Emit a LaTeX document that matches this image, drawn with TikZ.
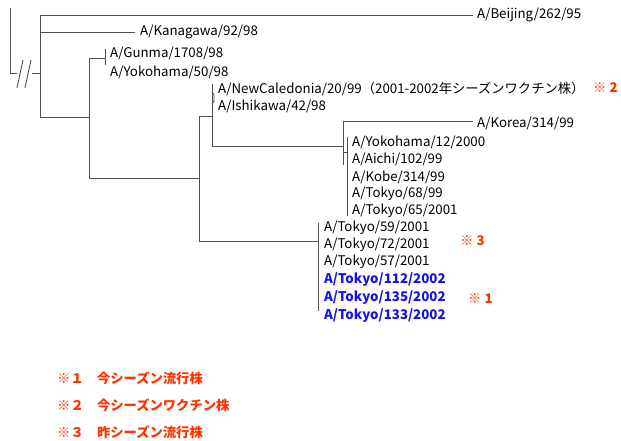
\documentclass[tikz,border=0pt]{standalone}
\usepackage{fontspec}
\setmainfont{Noto Sans CJK JP}
\usetikzlibrary{positioning}

\definecolor{notecol}{RGB}{255,51,0}
\definecolor{newcol}{RGB}{20,20,230}
\definecolor{linecol}{RGB}{80,80,80}

\tikzset{
	branch/.style={draw=linecol, line width=0.9pt},
	strain/.style={anchor=west, inner sep=0pt, font=\fontsize{13.3}{14}\selectfont},
	newstrain/.style={strain, text=newcol, font=\fontsize{13.3}{14}\selectfont\bfseries},
	note/.style={anchor=west, inner sep=0pt, text=notecol, font=\fontsize{13.3}{14}\selectfont\bfseries}
}

\begin{document}
\begin{tikzpicture}[x=1pt, y=-1pt]

		\useasboundingbox (0,0) rectangle (621,441);

		% internal nodes of the tree
		\coordinate (root) at (40,73);
		\coordinate (n1) at (89,117);
		\coordinate (n2) at (105,58);
		\coordinate (n3) at (199,178);
		\coordinate (n4) at (212,116);
		\coordinate (n5) at (213,97);
		\coordinate (n6) at (343,141);
		\coordinate (n7) at (347,152);
		\coordinate (n8) at (318,241);

		% stub with the break
		\draw[branch] (10,8) -- (10,73) -- (17,73);
		\draw[branch] (17,88) -- (23,60); %Corte
		\draw[branch] (25,88) -- (31,60); %Corte
		\draw[branch] (32,73) -- (root);

		% strains
		\node[strain] (beijing) at (477,15) {A/Beijing/262/95};
		\node[strain] (kanagawa) at (140,32) {A/Kanagawa/92/98};
		\node[strain] (gunma) at (110,53) {A/Gunma/1708/98};
		\node[strain] (yokohama50) at (110,72) {A/Yokohama/50/98};
		\node[strain] (newcal) at (218,89) {A/NewCaledonia/20/99（2001-2002年シーズンワクチン株）};
		\node[strain] (ishikawa) at (218,106) {A/Ishikawa/42/98};
		\node[strain] (korea) at (477,123) {A/Korea/314/99};
		\node[strain] (yokohama12) at (352,142) {A/Yokohama/12/2000};
		\node[strain] (aichi) at (352,159) {A/Aichi/102/99};
		\node[strain] (kobe) at (352,177) {A/Kobe/314/99};
		\node[strain] (tokyo68) at (352,194) {A/Tokyo/68/99};
		\node[strain] (tokyo65) at (352,211) {A/Tokyo/65/2001};
		\node[strain] (tokyo59) at (324,228) {A/Tokyo/59/2001};
		\node[strain] (tokyo72) at (324,245) {A/Tokyo/72/2001};
		\node[strain] (tokyo57) at (324,262) {A/Tokyo/57/2001};
		\node[newstrain] (tokyo112) at (324,280) {A/Tokyo/112/2002};
		\node[newstrain] (tokyo135) at (324,298) {A/Tokyo/135/2002};
		\node[newstrain] (tokyo133) at (324,316) {A/Tokyo/133/2002};

		% branches
		\draw[branch] (40,15) -- (40,117);
		\draw[branch] (40,15) -- ([xshift=-4pt]beijing.west |- 0,15);
		\draw[branch] (40,32) -- ([xshift=-5pt]kanagawa.west |- 0,32);
		\draw[branch] (40,117) -- (n1);
		\draw[branch] (89,58) -- (89,178);
		\draw[branch] (89,58) -- (n2);
		\draw[branch] (105,49) -- (105,65);
		\draw[branch] (89,178) -- (n3);
		\draw[branch] (199,116) -- (199,241);
		\draw[branch] (199,116) -- (n4);
		\draw[branch] (212,84) -- (212,146);
		\draw[branch] (212,92) -- (214,95) -- (214,101) -- (212,104);
		\draw[branch] (212,146) -- (343,146);
		\draw[branch] (343,121) -- (343,165);
		\draw[branch] (343,121) -- ([xshift=-4pt]korea.west |- 0,121);
		\draw[branch] (343,152) -- (n7);
		\draw[branch] (347,137) -- (347,216);
		\draw[branch] (199,241) -- (n8);
		\draw[branch] (318,223) -- (318,311);

		% marks
		\node[note] (mark2) at (593,88) {※ 2};
		\node[note] (mark3) at (460,241) {※ 3};
		\node[note] (mark1) at (468,299) {※ 1};

		% legend
		\node[note] (legend1) at (57,378) {※１　今シーズン流行株};
		\node[note] (legend2) at (57,405) {※２　今シーズンワクチン株};
		\node[note] (legend3) at (57,432) {※３　昨シーズン流行株};

	\end{tikzpicture}
\end{document}
